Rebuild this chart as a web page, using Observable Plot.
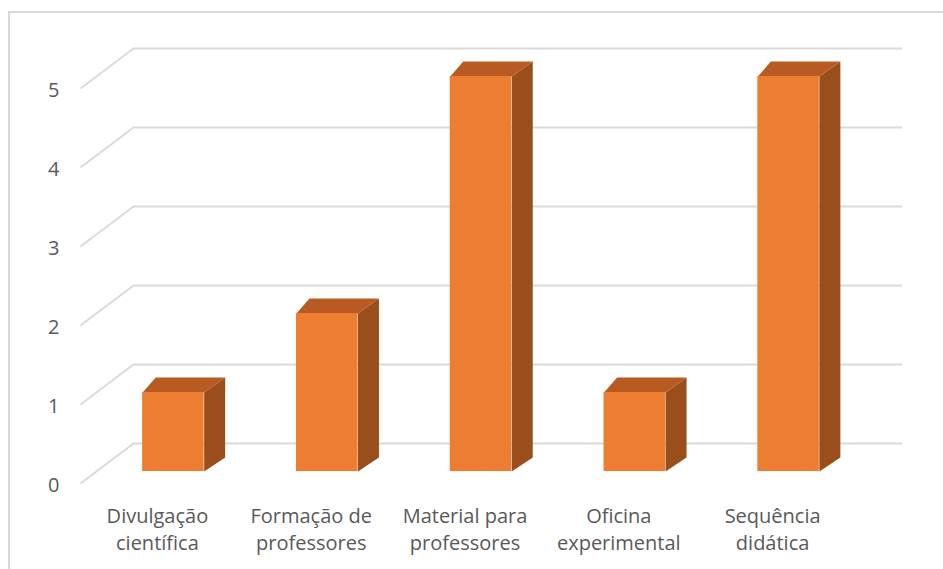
<!DOCTYPE html>
<html>
<head>
<meta charset="utf-8">
<script src="https://cdn.jsdelivr.net/npm/d3@7"></script>
<script src="https://cdn.jsdelivr.net/npm/@observablehq/plot@0.6"></script>
<style>
  html, body { margin: 0; padding: 0; background: #fff; overflow: hidden; }
  #wrap { position: relative; width: 943px; height: 569px; }
  #border { position: absolute; left: 8px; top: 11px; width: 1000px; height: 1000px; border: 2px solid #d9d9d9; box-sizing: border-box; pointer-events: none; }
  #chart { position: absolute; left: 0; top: 0; }
</style>
</head>
<body>
<div id="wrap"><div id="border"></div><div id="chart"></div></div>
<script>
// ---- data ----
const categories = ["Divulgação\ncientífica", "Formação de\nprofessores", "Material para\nprofessores", "Oficina\nexperimental", "Sequência\ndidática"];
const values = [1, 2, 5, 1, 5];
const yTicks = [0, 1, 2, 3, 4, 5];

// ---- layout (pixels) ----
const W = 943, H = 569;
const xDomain = [-0.5, categories.length - 0.5], xRange = [80, 849];
const yDomain = [0, 5], yRange = [483, 88];
const kx = (xRange[1] - xRange[0]) / (xDomain[1] - xDomain[0]);   // px per category
const ky = (yRange[0] - yRange[1]) / (yDomain[1] - yDomain[0]);   // px per unit
const pxX = p => p / kx;     // pixel offset -> data offset (x)
const pxY = p => p / ky;     // upward pixel offset -> data offset (y)
const wall = {dx: 53, dy: -40};        // depth of floor / back wall
const barPlane = {dx: 16, dy: -12};    // bars' front plane
const halfW = 0.2;                     // half bar width (category units)

const bars = categories.map((c, i) => ({i, c, v: values[i]}));

const sideRows = bars.flatMap(b => [
  {id: b.i, x: b.i + halfW, y: 0},
  {id: b.i, x: b.i + halfW, y: b.v},
  {id: b.i, x: b.i + halfW + pxX(21), y: b.v + pxY(15)},
  {id: b.i, x: b.i + halfW + pxX(21), y: pxY(14)}
]);
const topRows = bars.flatMap(b => [
  {id: b.i, x: b.i - halfW, y: b.v},
  {id: b.i, x: b.i + halfW, y: b.v},
  {id: b.i, x: b.i + halfW + pxX(21), y: b.v + pxY(15)},
  {id: b.i, x: b.i - halfW + pxX(13), y: b.v + pxY(15)}
]);

const grid = "#d9d9d9", txt = "#595959";
const font = "'Open Sans', 'Noto Sans', sans-serif";

const chart = Plot.plot({
  width: W, height: H,
  margin: 0,
  style: {fontFamily: font, background: "transparent"},
  x: {type: "linear", domain: xDomain, range: xRange, axis: null},
  y: {type: "linear", domain: yDomain, range: yRange, axis: null},
  marks: [
    // diagonal gridlines on the left wall
    Plot.link(yTicks, {
      x1: xDomain[0], y1: d => d,
      x2: xDomain[0] + pxX(wall.dx), y2: d => d + pxY(-wall.dy),
      stroke: grid, strokeWidth: 1.8
    }),
    // back wall gridlines
    Plot.ruleY(yTicks, {x1: xDomain[0], x2: xDomain[1], dx: wall.dx, dy: wall.dy, stroke: grid, strokeWidth: 1.8}),
    // bar side faces
    Plot.line(sideRows, {x: "x", y: "y", z: "id", fill: "#9a4e1c", stroke: "none", dx: barPlane.dx, dy: barPlane.dy}),
    // bar top faces
    Plot.line(topRows, {x: "x", y: "y", z: "id", fill: "#b85b22", stroke: "none", dx: barPlane.dx, dy: barPlane.dy}),
    // bar front faces
    Plot.rect(bars, {x1: d => d.i - halfW, x2: d => d.i + halfW, y1: 0, y2: "v", fill: "#ed7d31", dx: barPlane.dx, dy: barPlane.dy}),
    // y tick labels
    Plot.text(yTicks, {x: xDomain[0], y: d => d, text: d => String(d), textAnchor: "end", dx: -21, dy: 2, fill: txt, fontSize: 20}),
    // category labels
    Plot.text(bars, {x: "i", y: 0, text: "c", lineAnchor: "top", dy: 20, lineHeight: 1.36, fill: txt, fontSize: 20})
  ]
});
document.getElementById("chart").appendChild(chart);
</script>
</body>
</html>
